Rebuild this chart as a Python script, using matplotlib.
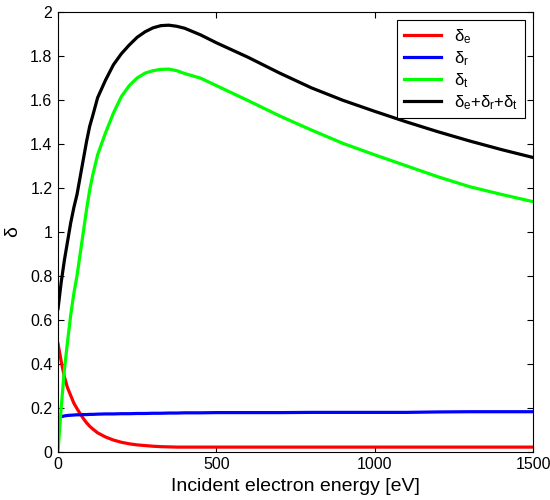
import numpy as np
import matplotlib
matplotlib.use("Agg")
import matplotlib.pyplot as plt

plt.rcParams['font.family'] = ['Liberation Sans', 'DejaVu Sans']
plt.rcParams['mathtext.default'] = 'regular'

# incident energy grid (eV)
energy = [0, 10, 20, 30, 40, 50, 60, 70, 80, 90, 100, 110, 125, 150, 175, 200, 225, 250,
          275, 300, 325, 350, 375, 400, 450, 500, 600, 700, 800, 900, 1000, 1100, 1200,
          1300, 1400, 1500]

# elastic backscattered
delta_e = [0.49, 0.41, 0.34, 0.29, 0.255, 0.22, 0.195, 0.172, 0.15, 0.131, 0.115, 0.102,
           0.085, 0.066, 0.052, 0.042, 0.035, 0.03, 0.027, 0.024, 0.022, 0.021, 0.02, 0.02,
           0.02, 0.02, 0.02, 0.02, 0.02, 0.02, 0.02, 0.02, 0.02, 0.02, 0.02, 0.02]
# rediffused
delta_r = [0.15, 0.158, 0.162, 0.164, 0.165, 0.166, 0.167, 0.167, 0.168, 0.168, 0.169, 0.169,
           0.170, 0.171, 0.171, 0.172, 0.172, 0.173, 0.173, 0.174, 0.174, 0.175, 0.175, 0.176,
           0.176, 0.177, 0.177, 0.177, 0.178, 0.178, 0.178, 0.178, 0.18, 0.181, 0.181, 0.181]
# true secondaries
delta_t = [0.0, 0.2, 0.37, 0.5, 0.62, 0.72, 0.8, 0.9, 1.0, 1.1, 1.19, 1.26, 1.35, 1.45,
           1.54, 1.615, 1.665, 1.70, 1.722, 1.733, 1.739, 1.74, 1.733, 1.72, 1.699, 1.665,
           1.597, 1.527, 1.463, 1.402, 1.35, 1.30, 1.25, 1.205, 1.17, 1.137]
# total
delta_tot = [0.65, 0.77, 0.87, 0.955, 1.04, 1.11, 1.17, 1.25, 1.33, 1.41, 1.48, 1.53, 1.61,
             1.69, 1.76, 1.81, 1.85, 1.885, 1.91, 1.928, 1.938, 1.94, 1.935, 1.926, 1.896,
             1.86, 1.794, 1.722, 1.655, 1.598, 1.548, 1.50, 1.455, 1.413, 1.374, 1.338]

fig = plt.figure(figsize=(5.5, 5), dpi=100)
ax = fig.add_axes([0.1055, 0.097, 0.8636, 0.879])

lw = 2.3
ax.plot(energy, delta_e, color='#ff0000', lw=lw, label=r'$\delta_e$')
ax.plot(energy, delta_r, color='#0000ff', lw=lw, label=r'$\delta_r$')
ax.plot(energy, delta_t, color='#00ff00', lw=lw, label=r'$\delta_t$')
ax.plot(energy, delta_tot, color='#000000', lw=lw, label=r'$\delta_e$+$\delta_r$+$\delta_t$')

ax.set_xlim(0, 1500)
ax.set_ylim(0, 2)
ax.set_xticks([0, 500, 1000, 1500])
ax.set_yticks(np.arange(0, 2.01, 0.2))
ax.set_yticklabels(['0', '0.2', '0.4', '0.6', '0.8', '1', '1.2', '1.4', '1.6', '1.8', '2'])
ax.tick_params(direction='in', top=True, right=True, labelsize=11.5, length=4, pad=4)
ax.set_xlabel('Incident electron energy [eV]', fontsize=14, labelpad=4)
ax.set_ylabel(r'$\delta$', fontsize=14, labelpad=6)

leg = ax.legend(loc='upper right', fontsize=12, fancybox=False, edgecolor='black',
                framealpha=1, handlelength=2.2, borderaxespad=0.5, labelspacing=0.2)
leg.get_frame().set_linewidth(0.8)

fig.savefig('out.png', dpi=100)
